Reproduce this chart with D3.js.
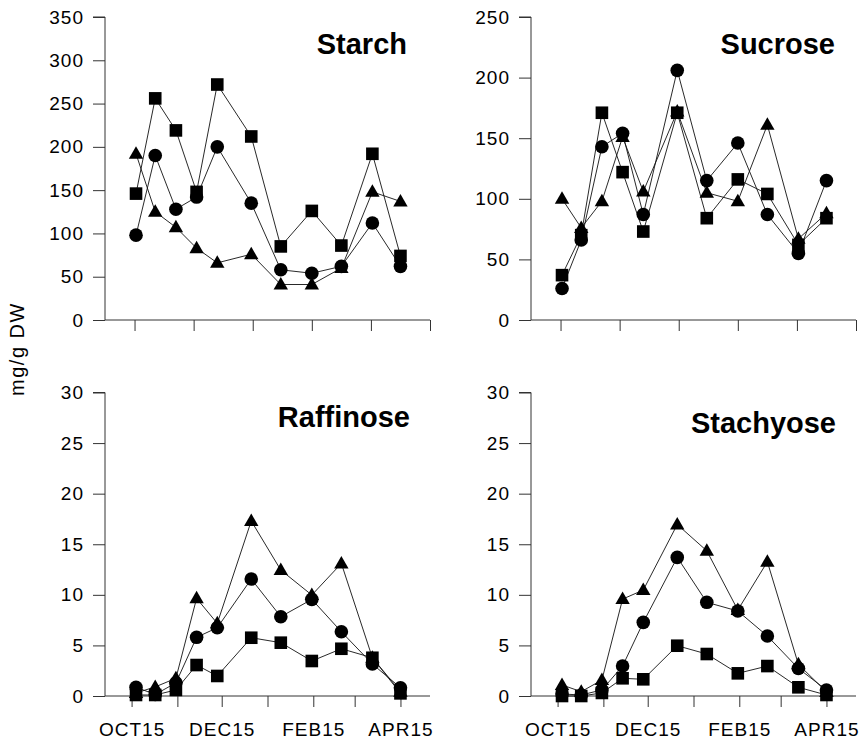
<!DOCTYPE html>
<html><head><meta charset="utf-8">
<script src="https://cdn.jsdelivr.net/npm/d3@7"></script>
<style>body{margin:0;background:#fff}svg{display:block}text{font-family:"Liberation Sans",Arial,sans-serif}</style>
</head><body>
<script>
// ---- data ----
const sampleDates = ["2000-10-18","2000-10-31","2000-11-14","2000-11-28","2000-12-12","2001-01-04","2001-01-24","2001-02-14","2001-03-06","2001-03-27","2001-04-15"];
const starchSquare   = [146, 256, 219, 148, 272, 212, 85, 126, 86, 192, 74];
const starchCircle   = [98, 190, 128, 142, 200, 135, 58, 54, 62, 112, 62];
const starchTriangle = [192, 125, 107, 83, 66, 76, 41, 41, 60, 148, 137];
const sucroseSquare   = [37, 70, 171, 122, 73, 171, 84, 116, 104, 62, 84];
const sucroseCircle   = [26, 66, 143, 154, 87, 206, 115, 146, 87, 55, 115];
const sucroseTriangle = [100, 76, 98, 151, 106, 172, 105, 98, 161, 67, 88];
const raffinoseSquare   = [0.1, 0.1, 0.6, 3.06, 1.98, 5.76, 5.27, 3.46, 4.67, 3.78, 0.26];
const raffinoseCircle   = [0.86, 0.15, 1.3, 5.8, 6.75, 11.56, 7.84, 9.55, 6.35, 3.16, 0.82];
const raffinoseTriangle = [0.3, 0.9, 1.75, 9.65, 7.18, 17.3, 12.45, 9.98, 13.1, 3.78, 0.43];
const stachyoseSquare   = [0.0, 0.0, 0.3, 1.75, 1.65, 4.97, 4.15, 2.24, 2.96, 0.86, 0.1];
const stachyoseCircle   = [0.2, 0.1, 0.6, 2.96, 7.28, 13.7, 9.26, 8.4, 5.93, 2.73, 0.59];
const stachyoseTriangle = [1.09, 0.43, 1.58, 9.58, 10.47, 16.95, 14.35, 8.5, 13.27, 3.13, 0.4];
const starchTicks = [0, 50, 100, 150, 200, 250, 300, 350];
const sucroseTicks = [0, 50, 100, 150, 200, 250];
const oligoTicks = [0, 5, 10, 15, 20, 25, 30];
const topTickDates = ["2000-10-17","2000-11-26","2001-01-05","2001-02-14","2001-03-26","2001-05-05"];
const monthTickDates = ["2000-10-15","2000-11-15","2000-12-15","2001-01-15","2001-02-15","2001-03-15","2001-04-15"];
const monthTickLabels = ["OCT15","","DEC15","","FEB15","","APR15"];
const xDomain = ["2000-09-27","2001-05-05"];
const yAxisTitle = "mg/g DW";

// ---- layout ----
const W = 866, H = 742;
const parse = d3.timeParse("%Y-%m-%d");
const dates = sampleDates.map(parse);
const svg = d3.select("body").append("svg").attr("width", W).attr("height", H);

const panels = [
  {title:"Starch", x0:105, x1:430, yTop:17, yBot:320, max:350, ticks:starchTicks, monthly:false,
   series:[starchTriangle, starchSquare, starchCircle], tx:407, ty:54},
  {title:"Sucrose", x0:531, x1:856, yTop:17, yBot:320, max:250, ticks:sucroseTicks, monthly:false,
   series:[sucroseTriangle, sucroseSquare, sucroseCircle], tx:835, ty:53.5},
  {title:"Raffinose", x0:105, x1:430, yTop:392.5, yBot:696, max:30, ticks:oligoTicks, monthly:true,
   series:[raffinoseTriangle, raffinoseSquare, raffinoseCircle], tx:410, ty:427},
  {title:"Stachyose", x0:531, x1:856, yTop:392.5, yBot:696, max:30, ticks:oligoTicks, monthly:true,
   series:[stachyoseTriangle, stachyoseSquare, stachyoseCircle], tx:836, ty:432.5}
];
const shapes = ["triangle","square","circle"];
const axisColor = "#333";

panels.forEach(p => {
  const x = d3.scaleTime().domain(xDomain.map(parse)).range([p.x0, p.x1]);
  const y = d3.scaleLinear().domain([0, p.max]).range([p.yBot, p.yTop]);
  const g = svg.append("g");

  // y axis
  const ya = d3.axisLeft(y).tickValues(p.ticks).tickSize(12).tickPadding(9).tickFormat(d3.format("d"));
  const yg = g.append("g").attr("transform", `translate(${p.x0},0)`).call(ya);
  yg.select(".domain").attr("d", `M-12,${y(p.max)}H0V${y(0)}`);
  // x axis
  const tv = p.monthly ? monthTickDates.map(parse) : topTickDates.map(parse);
  const xa = d3.axisBottom(x).tickValues(tv).tickSize(11).tickPadding(16)
     .tickFormat((d,i) => p.monthly ? monthTickLabels[i] : "");
  const xg = g.append("g").attr("transform", `translate(0,${p.yBot})`).call(xa);
  xg.select(".domain").attr("d", `M${p.x0},0H${p.x1}`);
  g.selectAll(".domain").attr("stroke", axisColor).attr("stroke-width", 1);
  g.selectAll(".tick line").attr("stroke", axisColor).attr("stroke-width", 1);
  g.selectAll(".tick text").attr("fill", "#000").attr("font-size", 19)
     .attr("font-family", '"Liberation Sans",Arial,sans-serif').attr("letter-spacing", "1px");

  // lines
  const line = d3.line().x((d,i) => x(dates[i])).y(d => y(d));
  p.series.forEach(s => {
    g.append("path").datum(s).attr("d", line).attr("fill","none")
     .attr("stroke","#111").attr("stroke-width",0.9);
  });
  // markers
  p.series.forEach((s, k) => {
    const shape = shapes[k];
    s.forEach((v, i) => {
      const cx = x(dates[i]), cy = y(v);
      if (shape === "circle") {
        g.append("circle").attr("cx", cx).attr("cy", cy).attr("r", 6.8).attr("fill", "#000");
      } else if (shape === "square") {
        g.append("rect").attr("x", cx-6.3).attr("y", cy-6.3).attr("width", 12.6).attr("height", 12.6).attr("fill", "#000");
      } else {
        g.append("path").attr("d", `M${cx},${cy-7.5}L${cx+7.2},${cy+5}L${cx-7.2},${cy+5}Z`).attr("fill", "#000");
      }
    });
  });

  // title
  g.append("text").attr("x", p.tx).attr("y", p.ty).attr("text-anchor","end")
   .attr("font-size", 29).attr("font-weight","bold").attr("fill","#000").text(p.title);
});

svg.append("text").attr("transform","translate(24,349) rotate(-90)").attr("text-anchor","middle")
  .attr("font-size", 20).attr("letter-spacing","1.5px").attr("fill","#000").text(yAxisTitle);
</script>
</body></html>
